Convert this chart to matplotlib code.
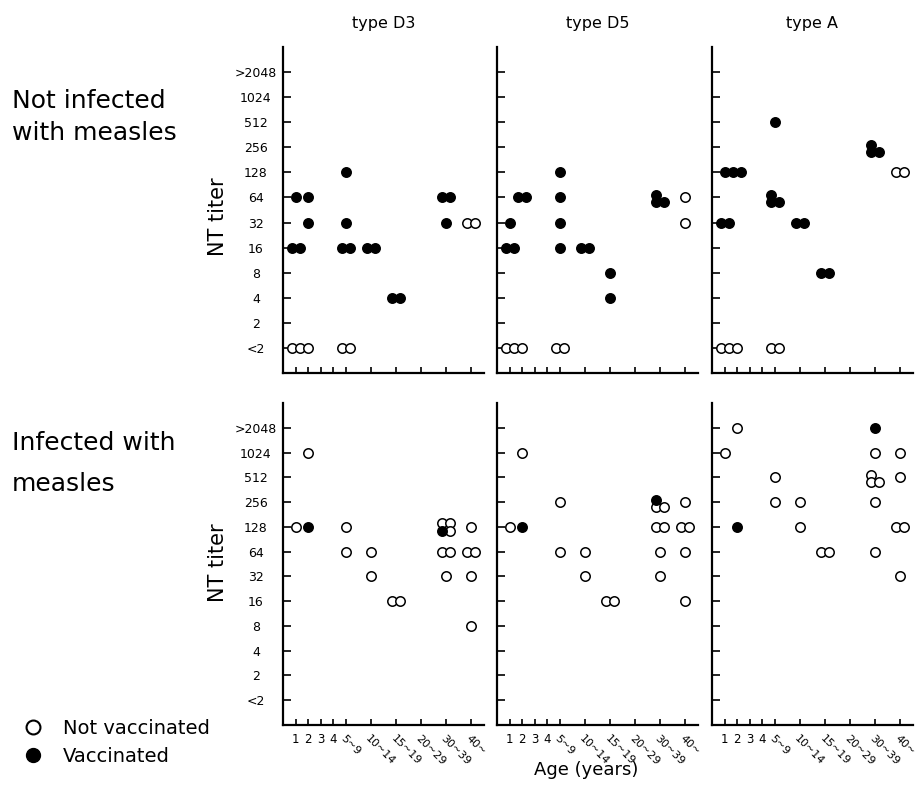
import matplotlib.pyplot as plt
from matplotlib.lines import Line2D
from collections import defaultdict

plt.rcParams['font.family'] = ['DejaVu Sans']

# ---- categories ----
AGE_GROUPS = ['1', '2', '3', '4', '5~9', '10~14', '15~19', '20~29', '30~39', '40~']
TITERS = ['<2', '2', '4', '8', '16', '32', '64', '128', '256', '512', '1024', '>2048']
VIRUS_TYPES = ['type D3', 'type D5', 'type A']

# ---- not infected with measles: one (age group, NT titer) per subject ----
d3_noninf_open = [('1', '<2'), ('1', '<2'), ('2', '<2'), ('5~9', '<2'), ('5~9', '<2'),
                  ('40~', '32'), ('40~', '32')]
d3_noninf_filled = [('1', '16'), ('1', '16'), ('1', '64'), ('2', '64'), ('2', '32'),
                    ('5~9', '16'), ('5~9', '16'), ('5~9', '32'), ('5~9', '128'),
                    ('10~14', '16'), ('10~14', '16'), ('15~19', '4'), ('15~19', '4'),
                    ('30~39', '64'), ('30~39', '64'), ('30~39', '32')]

d5_noninf_open = [('1', '<2'), ('1', '<2'), ('2', '<2'), ('5~9', '<2'), ('5~9', '<2'),
                  ('40~', '64'), ('40~', '32')]
d5_noninf_filled = [('1', '16'), ('1', '16'), ('1', '32'), ('2', '64'), ('2', '64'),
                    ('5~9', '16'), ('5~9', '32'), ('5~9', '64'), ('5~9', '128'),
                    ('10~14', '16'), ('10~14', '16'), ('15~19', '8'), ('15~19', '4'),
                    ('30~39', '64'), ('30~39', '64'), ('30~39', '64')]

a_noninf_open = [('1', '<2'), ('1', '<2'), ('2', '<2'), ('5~9', '<2'), ('5~9', '<2'),
                 ('40~', '128'), ('40~', '128')]
a_noninf_filled = [('1', '128'), ('2', '128'), ('2', '128'), ('1', '32'), ('1', '32'),
                   ('5~9', '512'), ('5~9', '64'), ('5~9', '64'), ('5~9', '64'),
                   ('10~14', '32'), ('10~14', '32'), ('15~19', '8'), ('15~19', '8'),
                   ('30~39', '256'), ('30~39', '256'), ('30~39', '256')]

# ---- infected with measles ----
d3_inf_open = [('1', '128'), ('2', '1024'), ('5~9', '128'), ('5~9', '64'),
               ('10~14', '64'), ('10~14', '32'), ('15~19', '16'), ('15~19', '16'),
               ('30~39', '128'), ('30~39', '128'), ('30~39', '128'),
               ('30~39', '64'), ('30~39', '64'), ('30~39', '32'),
               ('40~', '128'), ('40~', '64'), ('40~', '64'), ('40~', '32'), ('40~', '8')]
d3_inf_filled = [('2', '128'), ('30~39', '128')]

d5_inf_open = [('1', '128'), ('2', '1024'), ('5~9', '256'), ('5~9', '64'),
               ('10~14', '64'), ('10~14', '32'), ('15~19', '16'), ('15~19', '16'),
               ('30~39', '256'), ('30~39', '256'), ('30~39', '128'), ('30~39', '128'),
               ('30~39', '64'), ('30~39', '32'),
               ('40~', '256'), ('40~', '128'), ('40~', '128'), ('40~', '64'), ('40~', '16')]
d5_inf_filled = [('2', '128'), ('30~39', '256')]

a_inf_open = [('1', '1024'), ('2', '>2048'), ('5~9', '512'), ('5~9', '256'),
              ('10~14', '256'), ('10~14', '128'), ('15~19', '64'), ('15~19', '64'),
              ('30~39', '1024'), ('30~39', '512'), ('30~39', '512'), ('30~39', '512'),
              ('30~39', '256'), ('30~39', '64'),
              ('40~', '1024'), ('40~', '512'), ('40~', '128'), ('40~', '128'), ('40~', '32')]
a_inf_filled = [('2', '128'), ('30~39', '>2048')]

panels = [
    [(d3_noninf_open, d3_noninf_filled), (d5_noninf_open, d5_noninf_filled),
     (a_noninf_open, a_noninf_filled)],
    [(d3_inf_open, d3_inf_filled), (d5_inf_open, d5_inf_filled),
     (a_inf_open, a_inf_filled)],
]

# ---- layout ----
W, H = 917, 799
AGE_POS = [1, 2, 3, 4, 5, 7, 9, 11, 13, 15]
COL_LEFT = [283, 497, 712]
COL_W = 201
ROWS = [(47, 373), (403, 725)]
DX, DY = 0.32, 0.16
CLUSTER = {1: [(0, 0)], 2: [(-1, 0), (1, 0)],
           3: [(-1, 0.6), (-1, -1.2), (1, -1.2)],
           4: [(-1, -1), (-1, 1), (1, 1), (1, -1)]}


def place(opened, filled):
    """spread out subjects sharing the same age group and titer"""
    groups = defaultdict(list)
    for kind, pts in (('filled', filled), ('open', opened)):
        for age, titer in pts:
            groups[(age, titer)].append(kind)
    out = {'filled': ([], []), 'open': ([], [])}
    for (age, titer), kinds in groups.items():
        x0 = AGE_POS[AGE_GROUPS.index(age)]
        y0 = TITERS.index(titer)
        for (ox, oy), kind in zip(CLUSTER[len(kinds)], kinds):
            out[kind][0].append(x0 + ox * DX)
            out[kind][1].append(y0 + oy * DY)
    return out


fig = plt.figure(figsize=(W / 100, H / 100), dpi=100)

for r, (top, bot) in enumerate(ROWS):
    for c in range(3):
        ax = fig.add_axes([COL_LEFT[c] / W, 1 - bot / H, COL_W / W, (bot - top) / H])
        opened, filled = panels[r][c]
        pts = place(opened, filled)
        ax.scatter(*pts['open'], s=46, facecolors='white', edgecolors='black',
                   linewidths=1.1, zorder=3, clip_on=False)
        ax.scatter(*pts['filled'], s=46, facecolors='black', edgecolors='black',
                   linewidths=1.1, zorder=4, clip_on=False)

        ax.set_xlim(0, 16.0)
        ax.set_ylim(-1, 12)
        for side in ('top', 'right'):
            ax.spines[side].set_visible(False)
        for side in ('left', 'bottom'):
            ax.spines[side].set_linewidth(1.6)

        ax.set_yticks(range(len(TITERS)))
        ax.tick_params(axis='y', direction='in', length=6, width=1.2, pad=19.5, labelsize=9)
        if c == 0:
            ax.set_yticklabels(TITERS)
            for lbl in ax.get_yticklabels():
                lbl.set_ha('center')
        else:
            ax.set_yticklabels([])

        ax.set_xticks(AGE_POS)
        ax.tick_params(axis='x', direction='in', length=4.5, width=1.2, pad=6, labelsize=8.5)
        if r == 1:
            ax.set_xticklabels(AGE_GROUPS)
            for lbl in ax.get_xticklabels()[4:]:
                lbl.set_rotation(-45)
                lbl.set_rotation_mode('anchor')
                lbl.set_ha('left')
                lbl.set_va('top')
                lbl.set_fontsize(8)
        else:
            ax.set_xticklabels([])

        if r == 0:
            fig.text((COL_LEFT[c] + COL_W / 2) / W, 1 - 28 / H, VIRUS_TYPES[c],
                     ha='center', va='baseline', fontsize=11.5)

# row labels
fig.text(12 / W, 1 - 108 / H, 'Not infected', fontsize=18, va='baseline')
fig.text(12 / W, 1 - 140 / H, 'with measles', fontsize=18, va='baseline')
fig.text(12 / W, 1 - 450 / H, 'Infected with', fontsize=18, va='baseline')
fig.text(12 / W, 1 - 491 / H, 'measles', fontsize=18, va='baseline')

# y axis titles
for yc in (217, 563):
    fig.text(218 / W, 1 - yc / H, 'NT titer', rotation=90, ha='center', va='center',
             fontsize=15)

fig.text(586 / W, 1 - 770 / H, 'Age (years)', ha='center', va='center', fontsize=13)

handles = [
    Line2D([], [], ls='none', marker='o', markersize=10, mfc='white', mec='black', mew=1.5),
    Line2D([], [], ls='none', marker='o', markersize=10, mfc='black', mec='black'),
]
fig.legend(handles, ['Not vaccinated', 'Vaccinated'], loc='upper left',
           bbox_to_anchor=(23 / W, 1 - 719 / H), borderaxespad=0, borderpad=0,
           handlelength=1.0, handletextpad=1.05, labelspacing=0.45,
           frameon=False, fontsize=14)

fig.savefig('out.png', dpi=100, facecolor='white')
